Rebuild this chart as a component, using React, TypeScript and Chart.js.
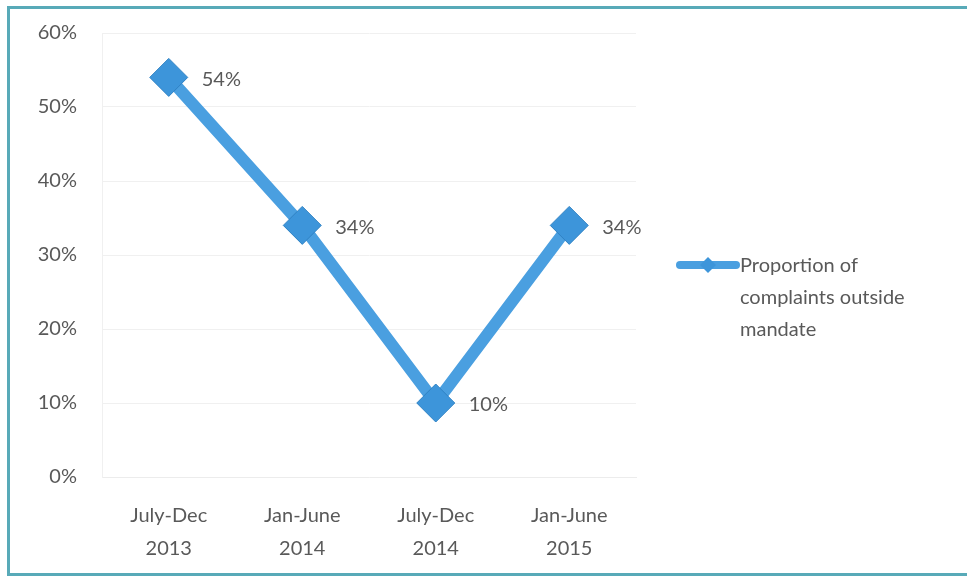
import React, { useEffect, useRef } from "react";
import { Chart, registerables } from "chart.js";

Chart.register(...registerables);

const categories: string[][] = [
  ["July-Dec", "2013"],
  ["Jan-June", "2014"],
  ["July-Dec", "2014"],
  ["Jan-June", "2015"],
];
const proportionOutsideMandate: number[] = [54, 34, 10, 34];
const seriesLabel = "Proportion of complaints outside mandate";
const legendLines: string[] = ["Proportion of", "complaints outside", "mandate"];
const yMax = 60;
const yStep = 10;

const FONT = "Lato, 'Open Sans', sans-serif";
const TEXT = "#595959";
const LINE = "#4a9fe0";
const MARKER = "#3d95da";
const SHIFT = 4;

const labelPlugin = {
  id: "valueLabels",
  afterDatasetsDraw(chart: any) {
    const ctx = chart.ctx;
    const meta = chart.getDatasetMeta(0);
    ctx.save();
    ctx.font = `20px ${FONT}`;
    ctx.fillStyle = TEXT;
    ctx.textAlign = "left";
    ctx.textBaseline = "middle";
    meta.data.forEach((pt: any, i: number) => {
      const v = chart.data.datasets[0].data[i];
      ctx.fillText(`${v}%`, pt.x + 33, pt.y + 2);
    });
    ctx.restore();
  },
};

const legendPlugin = {
  id: "customLegend",
  afterDraw(chart: any) {
    const ctx = chart.ctx;
    const x0 = chart.chartArea.right + 44;
    const y0 = 265 + SHIFT;
    ctx.save();
    ctx.strokeStyle = LINE;
    ctx.lineWidth = 8;
    ctx.lineCap = "round";
    ctx.beginPath();
    ctx.moveTo(x0, y0);
    ctx.lineTo(x0 + 56, y0);
    ctx.stroke();
    const cx = x0 + 28;
    const r = 8;
    ctx.fillStyle = MARKER;
    ctx.beginPath();
    ctx.moveTo(cx, y0 - r);
    ctx.lineTo(cx + r, y0);
    ctx.lineTo(cx, y0 + r);
    ctx.lineTo(cx - r, y0);
    ctx.closePath();
    ctx.fill();
    ctx.font = `20px ${FONT}`;
    ctx.fillStyle = TEXT;
    ctx.textAlign = "left";
    ctx.textBaseline = "middle";
    legendLines.forEach((t, i) => {
      ctx.fillText(t, x0 + 60, y0 + 1 + i * 32);
    });
    ctx.restore();
  },
};

export default function App() {
  const ref = useRef<HTMLCanvasElement | null>(null);
  useEffect(() => {
    if (!ref.current) return;
    const chart = new Chart(ref.current, {
      type: "line",
      data: {
        labels: categories,
        datasets: [
          {
            label: seriesLabel,
            data: proportionOutsideMandate,
            borderColor: LINE,
            borderWidth: 12,
            pointStyle: "rectRot",
            pointRadius: 19,
            pointBackgroundColor: MARKER,
            pointBorderColor: "#2f82c4",
            pointBorderWidth: 1,
            tension: 0,
          },
        ],
      },
      options: {
        animation: false,
        responsive: false,
        maintainAspectRatio: false,
        layout: { padding: { left: 0, right: 331, top: 25, bottom: 0 } },
        plugins: {
          legend: { display: false },
          tooltip: { enabled: false },
        },
        scales: {
          x: {
            offset: true,
            grid: { display: false, drawTicks: false },
            border: { display: true, color: "#ececec", width: 1 },
            ticks: {
              color: TEXT,
              font: { family: FONT, size: 20, lineHeight: 1.65 },
              padding: 22,
              maxRotation: 0,
              autoSkip: false,
            },
            afterFit(scale: any) {
              scale.height = 105 - SHIFT;
            },
          },
          y: {
            min: 0,
            max: yMax,
            grid: { color: "#f0f0f0", drawTicks: false },
            border: { display: true, color: "#f0f0f0" },
            ticks: {
              stepSize: yStep,
              color: TEXT,
              font: { family: FONT, size: 20 },
              padding: 25,
              callback: (v: any) => `${v}%`,
            },
            afterFit(scale: any) {
              scale.width = 102;
            },
          },
        },
      },
      plugins: [labelPlugin, legendPlugin],
    });
    return () => chart.destroy();
  }, []);

  return (
    <div style={{ position: "absolute", left: 0, top: 0, width: 967, height: 582, background: "#fff", overflow: "hidden" }}>
      <canvas ref={ref} width={967} height={582} style={{ position: "absolute", left: 0, top: -SHIFT }} />
      <div
        style={{
          position: "absolute",
          left: 7,
          top: 6,
          width: 975,
          height: 570,
          border: "3px solid #58aab8",
          boxSizing: "border-box",
          pointerEvents: "none",
        }}
      />
    </div>
  );
}
